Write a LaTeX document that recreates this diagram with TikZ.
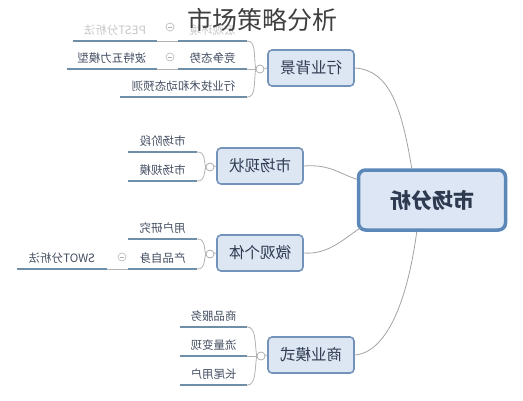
\documentclass[tikz,border=0pt]{standalone}
\usepackage{fontspec}
\newfontfamily\cjk{Noto Sans CJK SC}
\usetikzlibrary{calc}
\definecolor{rootfill}{HTML}{DCE6F4}
\definecolor{rootline}{HTML}{5B88B8}
\definecolor{brfill}{HTML}{DDE6F3}
\definecolor{brline}{HTML}{7393BA}
\definecolor{ink}{HTML}{2E3A50}
\definecolor{uline}{HTML}{6F8FA8}
\definecolor{wire}{HTML}{A3A3A3}
\newcommand{\mirr}[1]{\reflectbox{#1}}

\begin{document}
\begin{tikzpicture}[x=1pt, y=-1pt, font=\cjk,
  root/.style={draw=rootline, fill=rootfill, line width=3.5pt, rounded corners=7pt,
               minimum width=147, minimum height=60, inner sep=0, text=ink,
               font=\cjk\bfseries\fontsize{21}{21}\selectfont},
  branch/.style={draw=brline, fill=brfill, line width=1.6pt, rounded corners=4pt,
                 minimum width=86, minimum height=36, inner sep=0, text=ink,
                 font=\cjk\fontsize{15.5}{15.5}\selectfont},
  leaf/.style={anchor=south, minimum height=22, inner sep=0, text=ink!90,
               font=\cjk\fontsize{11.5}{11.5}\selectfont},
  faded/.style={leaf, text=gray!45},
  ul/.style={draw=uline, line width=2pt},
  knob/.style={circle, draw=gray!70, fill=white, line width=0.7pt, minimum size=8, inner sep=0},
  fold/.style={knob, draw=gray!50, path picture={\draw[gray!60, line width=0.7pt]
      ([xshift=-2pt]path picture bounding box.center) -- ([xshift=2pt]path picture bounding box.center);}},
  wire/.style={draw=wire, line width=0.8pt},
  brk/.style={draw=gray!60, line width=0.8pt}]
\useasboundingbox (0,0) rectangle (523,400);
% ---------- root and branches
\node[root] (root) at (432,200) {\mirr{市场分析}};
\node[branch] (brA) at (311,68) {\mirr{行业背景}};
\node[branch] (brB) at (260,166) {\mirr{市场现状}};
\node[branch] (brC) at (260,253) {\mirr{微观个体}};
\node[branch] (brD) at (311,355) {\mirr{商业模式}};
% ---------- leaves of the first branch
\node[faded, minimum width=69] (a1) at (212.5,41) {\mirr{宏观环境}};
\node[faded, minimum width=84] (a1c) at (115,41) {\mirr{PEST分析法}};
\node[leaf, minimum width=69] (a2) at (212.5,69) {\mirr{竞争态势}};
\node[leaf, minimum width=90] (a2c) at (112,69) {\mirr{波特五力模型}};
\node[leaf, minimum width=127] (a3) at (183.5,97) {\mirr{行业技术和动态预测}};
% ---------- leaves of the second and third branches
\node[leaf, minimum width=69] (b1) at (162.5,152) {\mirr{市场阶段}};
\node[leaf, minimum width=69] (b2) at (162.5,181) {\mirr{市场规模}};
\node[leaf, minimum width=69] (c1) at (162.5,239) {\mirr{用户研究}};
\node[leaf, minimum width=69] (c2) at (162.5,269) {\mirr{产品自身}};
\node[leaf, minimum width=90] (c2c) at (62,269) {\mirr{SWOT分析法}};
% ---------- leaves of the fourth branch
\node[leaf, minimum width=67] (d1) at (213.5,327) {\mirr{商品服务}};
\node[leaf, minimum width=67] (d2) at (213.5,356) {\mirr{流量变现}};
\node[leaf, minimum width=67] (d3) at (213.5,385) {\mirr{长尾用户}};
\foreach \n in {a1,a1c,a2,a2c,a3,b1,b2,c1,c2,c2c,d1,d2,d3}
  \draw[ul] (\n.south west) -- (\n.south east);
% ---------- title
\node[font=\cjk\fontsize{25}{25}\selectfont, text=black!75] (title) at (262,20) {市场策略分析};
% ---------- edges from the root
\draw[wire] (brA.east) .. controls +(35,2) and +(-10,-60) .. ([xshift=55pt]root.north west);
\draw[wire] (brB.east) .. controls +(25,-2) and +(-18,-6) .. ([yshift=-11pt]root.north west);
\draw[wire] (brC.east) .. controls +(25,2) and +(-16,10) .. ([xshift=4pt,yshift=4pt]root.south west);
\draw[wire] (brD.east) .. controls +(35,-3) and +(-8,60) .. ([xshift=60pt]root.south west);
% ---------- brackets
\node[knob] (cA) at (260,69) {};
\node[knob] (cB) at (210,167) {};
\node[knob] (cC) at (210,254) {};
\node[knob] (cD) at (261,356) {};
\draw[wire] (cA) -- (brA.west);
\draw[wire] (cB) -- (brB.west);
\draw[wire] (cC) -- (brC.west);
\draw[wire] (cD) -- (brD.west);
\draw[brk] (a1.south east) .. controls +(9,0) and +(-2,-14) .. (cA.west);
\draw[brk] (a2.south east) -- (cA.west);
\draw[brk] (a3.south east) .. controls +(9,0) and +(-2,14) .. (cA.west);
\draw[brk] (b1.south east) .. controls +(8,0) and +(-2,-8) .. (cB.west);
\draw[brk] (b2.south east) .. controls +(8,0) and +(-2,7) .. (cB.west);
\draw[brk] (c1.south east) .. controls +(8,0) and +(-2,-8) .. (cC.west);
\draw[brk] (c2.south east) .. controls +(8,0) and +(-2,8) .. (cC.west);
\draw[brk] (d1.south east) .. controls +(9,0) and +(-2,-14) .. (cD.west);
\draw[brk] (d2.south east) -- (cD.west);
\draw[brk] (d3.south east) .. controls +(9,0) and +(-2,14) .. (cD.west);
% ---------- folded children
\node[fold] (fA1) at (170,27) {};
\node[fold] (fA2) at (170,57) {};
\node[fold] (fC2) at (122,257) {};
\draw[brk] (a1c.south east) -- (a1.south west);
\draw[brk] (a2c.south east) -- (a2.south west);
\draw[brk] (c2c.south east) -- (c2.south west);
\end{tikzpicture}
\end{document}
